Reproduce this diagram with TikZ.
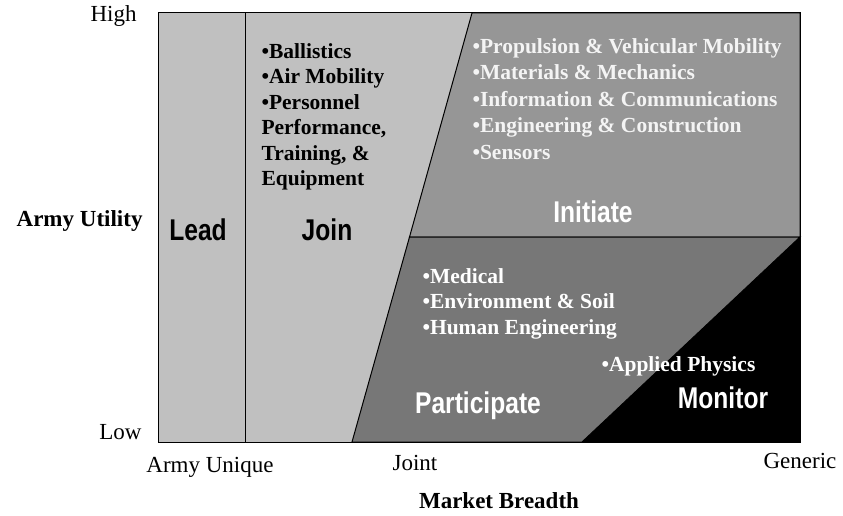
\documentclass[tikz,border=0pt]{standalone}
\usepackage{fontspec}
\setmainfont{Liberation Serif}
\newfontfamily\zonefont[FakeStretch=0.82]{Liberation Sans}
\usetikzlibrary{positioning}

\definecolor{joingray}{HTML}{C0C0C0}
\definecolor{initgray}{HTML}{969696}
\definecolor{partgray}{HTML}{777777}
\definecolor{itemwhite}{HTML}{F4F4F4}

\tikzset{
  zone/.style={font=\zonefont\bfseries\fontsize{30}{32}\selectfont, inner sep=0pt, anchor=base},
  topic/.style={font=\bfseries\fontsize{21.5}{25.5}\selectfont, align=left, anchor=north west, inner sep=0pt},
  axis/.style={font=\fontsize{23}{26}\selectfont, inner sep=0pt},
  axistitle/.style={axis, font=\bfseries\fontsize{23}{26}\selectfont},
}

\begin{document}
\begin{tikzpicture}[x=1pt, y=-1pt, line width=1pt]
    \useasboundingbox (0,0) rectangle (843,516);

    % draw the light gray frame for lead and join
    \filldraw[fill=joingray] (158,13) rectangle (800,442);

    % draw the initiate zone
    \filldraw[fill=initgray] (472,13) -- (800,13) -- (800,237) -- (409.5,237) -- cycle;

    % draw the participate zone
    \filldraw[fill=partgray] (409.5,237) -- (800,237) -- (582,442) -- (352,442) -- cycle;

    % draw the monitor zone
    \fill (800,237) -- (800,442) -- (582,442) -- cycle;

    % redraw the frame and the lead divider
    \draw (158,13) rectangle (800,442);
    \draw (245,13) -- (245,442);

    % draw the zone names
    \node[zone] (lead) at (198,240) {Lead};
    \node[zone] (join) at (327,240) {Join};
    \node[zone, white] (initiate) at (593,222) {Initiate};
    \node[zone, white] (participate) at (478,413) {Participate};
    \node[zone, white] (monitor) at (723,408) {Monitor};

    % draw the topics of each zone
    \node[topic] (jointopics) at (261,43) {•Ballistics\\•Air Mobility\\•Personnel\\Performance,\\Training, \&\\Equipment};
    \node[topic, itemwhite, font=\bfseries\fontsize{21.5}{26.5}\selectfont] (inittopics) at (472,38) {•Propulsion \& Vehicular Mobility\\•Materials \& Mechanics\\•Information \& Communications\\•Engineering \& Construction\\•Sensors};
    \node[topic, white] (parttopics) at (422,268) {•Medical\\•Environment \& Soil\\•Human Engineering};
    \node[topic, white] (monitortopics) at (601,356) {•Applied Physics};

    % draw the utility axis labels
    \node[axis, anchor=base east] (high) at (137,22) {High};
    \node[axistitle, anchor=base east] (utility) at (143,226) {Army Utility};
    \node[axis, anchor=base east] (low) at (142,439) {Low};

    % draw the market breadth axis labels
    \node[axis, anchor=base] (unique) at (210,472) {Army Unique};
    \node[axis, anchor=base] (joint) at (415,470) {Joint};
    \node[axis, anchor=base] (generic) at (800,468) {Generic};
    \node[axistitle, anchor=base] (breadth) at (499,508) {Market Breadth};
\end{tikzpicture}
\end{document}
